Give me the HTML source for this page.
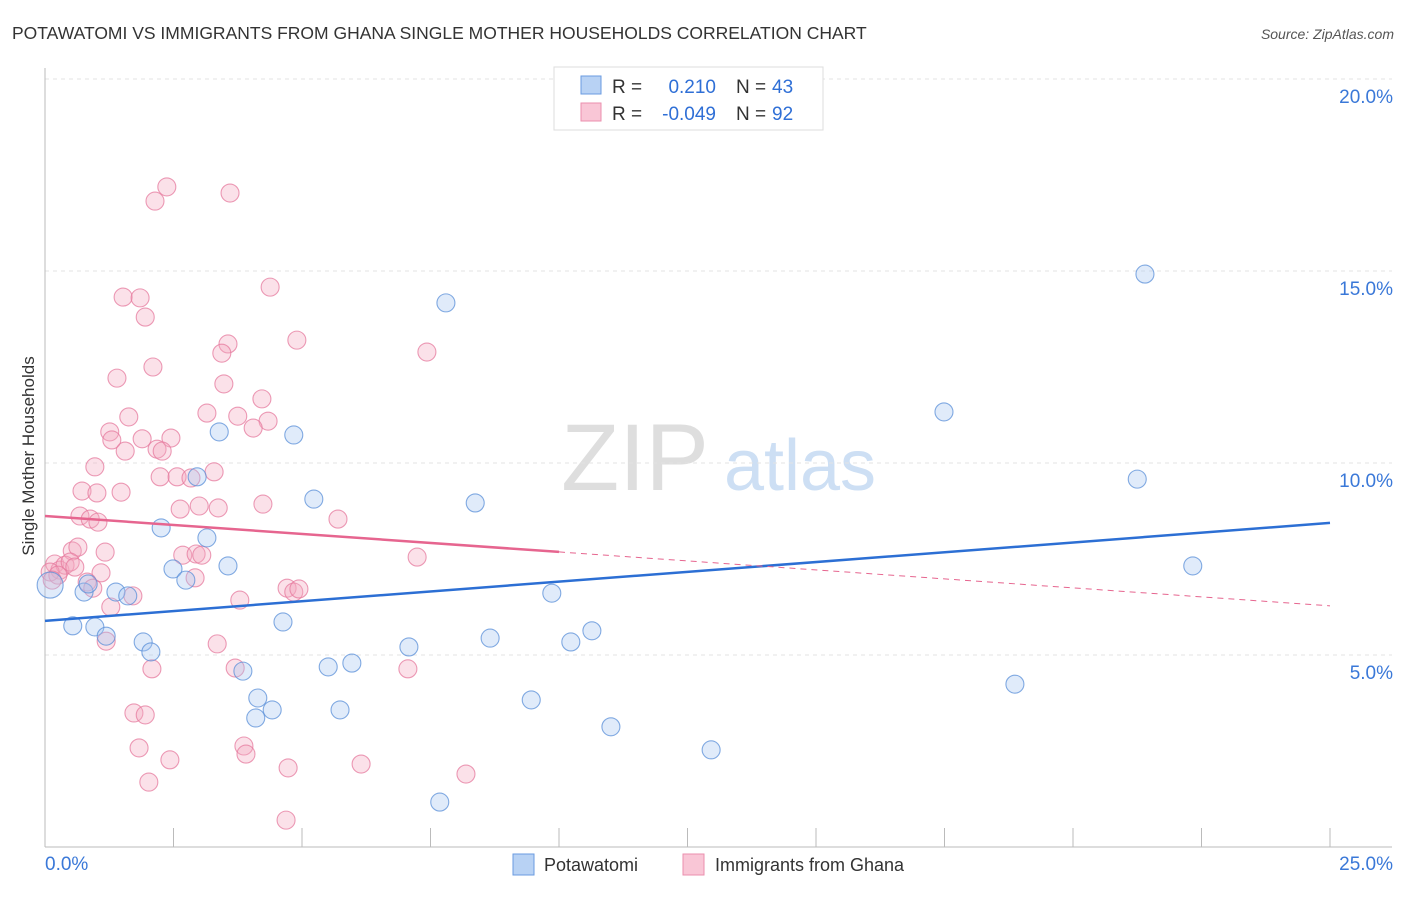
<!DOCTYPE html>
<html><head><meta charset="utf-8"><style>
body{margin:0;background:#fff;font-family:"Liberation Sans",sans-serif;}
svg text{font-family:"Liberation Sans",sans-serif;}
</style></head><body>
<svg id="chart" width="1406" height="892" xmlns="http://www.w3.org/2000/svg">
<text x="12" y="39" font-size="17.5" fill="#333">POTAWATOMI VS IMMIGRANTS FROM GHANA SINGLE MOTHER HOUSEHOLDS CORRELATION CHART</text>
<text x="1394" y="39" font-size="14" fill="#555" font-style="italic" text-anchor="end">Source: ZipAtlas.com</text>
<text transform="translate(34,456) rotate(-90)" font-size="17" fill="#333" text-anchor="middle">Single Mother Households</text>
<g><text x="635" y="490" font-size="95" fill="#dedede" font-family="Liberation Serif" text-anchor="middle">ZIP</text><text x="800" y="490" font-size="72" fill="#cddff4" text-anchor="middle">atlas</text></g>
<g id="grid"></g><g id="axes"></g><g id="pts"></g><g id="trend"></g>
<g>
<rect x="554" y="67" width="269" height="63" fill="#fff" stroke="#ddd"/>
<rect x="581" y="76" width="20" height="18" fill="#b8d2f4" stroke="#6a9be0"/>
<rect x="581" y="103" width="20" height="18" fill="#f9c6d6" stroke="#eb8fae"/>
<text x="612" y="93" font-size="19" fill="#333">R =</text><text x="716" y="93" font-size="19" fill="#2f6fd6" text-anchor="end">0.210</text>
<text x="736" y="93" font-size="19" fill="#333">N =</text><text x="772" y="93" font-size="19" fill="#2f6fd6">43</text>
<text x="612" y="120" font-size="19" fill="#333">R =</text><text x="716" y="120" font-size="19" fill="#2f6fd6" text-anchor="end">-0.049</text>
<text x="736" y="120" font-size="19" fill="#333">N =</text><text x="772" y="120" font-size="19" fill="#2f6fd6">92</text>
</g>
<g>
<rect x="513" y="854" width="21" height="21" fill="#b8d2f4" stroke="#6a9be0"/>
<text x="544" y="871" font-size="18" fill="#333">Potawatomi</text>
<rect x="683" y="854" width="21" height="21" fill="#f9c6d6" stroke="#eb8fae"/>
<text x="715" y="871" font-size="18" fill="#333">Immigrants from Ghana</text>
</g>
</svg>
<script>
const yTicks=[5,10,15,20];
const yTickLabels=["5.0%","10.0%","15.0%","20.0%"];
const xTickLabels=["0.0%","25.0%"];
const blueX=[7.80,21.40,17.49,21.25,22.33,3.39,4.84,2.96,5.23,8.37,2.26,3.15,3.56,2.49,2.74,0.76,1.38,1.61,0.84,0.54,0.97,1.19,1.91,2.06,4.63,9.86,7.08,8.66,10.23,10.64,5.51,5.97,3.85,4.14,4.42,4.10,5.74,9.46,11.01,12.96,7.68,18.87,0.10];
const blueY=[14.17,14.92,11.33,9.58,7.32,10.81,10.73,9.64,9.06,8.96,8.31,8.05,7.32,7.24,6.95,6.64,6.64,6.54,6.85,5.76,5.73,5.49,5.34,5.08,5.86,6.61,5.21,5.44,5.34,5.63,4.69,4.79,4.58,3.88,3.57,3.36,3.57,3.83,3.13,2.53,1.17,4.24,6.82];
const pinkX=[2.37,2.14,3.60,1.52,1.85,1.95,4.38,4.90,3.56,3.44,7.43,2.10,1.40,3.48,4.22,1.63,3.15,3.75,4.34,1.26,4.05,1.30,1.89,2.45,1.56,2.18,2.28,0.97,3.29,2.24,2.57,2.84,0.72,1.01,1.48,4.24,2.63,3.00,3.37,5.70,0.68,0.88,1.03,0.53,0.64,1.17,0.19,0.29,0.39,0.49,0.58,0.10,0.25,0.14,1.09,0.82,0.93,2.68,2.94,3.05,2.92,7.24,1.28,1.71,1.19,3.79,4.71,4.84,4.94,3.35,3.70,2.08,7.06,1.73,1.95,1.83,3.87,3.91,2.43,6.15,4.73,2.02,8.19,4.69];
const pinkY=[17.19,16.82,17.03,14.32,14.30,13.80,14.58,13.20,13.10,12.86,12.89,12.50,12.21,12.06,11.67,11.20,11.30,11.22,11.09,10.81,10.91,10.60,10.63,10.65,10.31,10.36,10.31,9.90,9.77,9.64,9.64,9.61,9.27,9.22,9.24,8.93,8.80,8.88,8.83,8.54,8.62,8.54,8.46,7.71,7.81,7.68,7.37,7.21,7.34,7.42,7.29,7.16,7.08,6.95,7.14,6.90,6.74,7.60,7.63,7.60,7.01,7.55,6.25,6.54,5.36,6.43,6.74,6.64,6.72,5.29,4.66,4.64,4.64,3.49,3.44,2.58,2.63,2.42,2.27,2.16,2.06,1.69,1.90,0.70];
const blueTrend=[5.89,8.44];
const pinkTrend=[8.62,6.28];
const pinkSolidEnd=10.0;
const X=v=>45+v*51.4, Y=v=>847-v*38.4;
const NS="http://www.w3.org/2000/svg";
function mk(tag,attrs,parent){const e=document.createElementNS(NS,tag);for(const k in attrs)e.setAttribute(k,attrs[k]);document.getElementById(parent).appendChild(e);return e;}
yTicks.forEach((t,i)=>{
 const l=mk('line',{x1:45,x2:1392,y1:Y(t),y2:Y(t),stroke:'#e3e3e3','stroke-dasharray':'4,4'},'grid');
 
 
 const tx=mk('text',{x:1393,y:Y(t)+24,'font-size':19,fill:'#3a78d8','text-anchor':'end'},'grid');
 tx.textContent=yTickLabels[i];
 
 
});
let ax=mk('line',{x1:45,x2:45,y1:68,y2:847,stroke:'#bbb'},'axes');


ax=mk('line',{x1:45,x2:1392,y1:847,y2:847,stroke:'#bbb'},'axes');


for(let i=0;i<=10;i++){const v=i*2.5;const t=mk('line',{x1:X(v),x2:X(v),y1:828,y2:847,stroke:'#bbb'},'axes');
 
 }
[[0,'start',45],[25,'end',1393]].forEach((a,i)=>{const t=mk('text',{x:a[2],y:870,'font-size':19,fill:'#3a78d8','text-anchor':a[1]},'axes');t.textContent=xTickLabels[i];
 
 });
const pc=(x,y,f,s,name,r)=>{const c=mk('circle',{cx:X(x),cy:Y(y),r:r||9,fill:f,'fill-opacity':0.35,stroke:s,'stroke-opacity':0.75,'stroke-width':1.1},'pts');
 
 };
pinkX.forEach((x,i)=>pc(x,pinkY[i],'#f4a9c1','#e6799d','ghana-point'));
blueX.forEach((x,i)=>pc(x,blueY[i],'#a7c6f0','#5a8fd8','potawatomi-point',i===blueX.length-1?13:9));
let tl=mk('line',{x1:X(0),y1:Y(blueTrend[0]),x2:X(25),y2:Y(blueTrend[1]),stroke:'#2c6fd4','stroke-width':2.5},'trend');


const py=v=>pinkTrend[0]+(pinkTrend[1]-pinkTrend[0])*v/25;
tl=mk('line',{x1:X(0),y1:Y(py(0)),x2:X(pinkSolidEnd),y2:Y(py(pinkSolidEnd)),stroke:'#e6658f','stroke-width':2.5},'trend');


tl=mk('line',{x1:X(pinkSolidEnd),y1:Y(py(pinkSolidEnd)),x2:X(25),y2:Y(py(25)),stroke:'#e6658f','stroke-width':1,'stroke-dasharray':'6,5'},'trend');


</script>
</body></html>
